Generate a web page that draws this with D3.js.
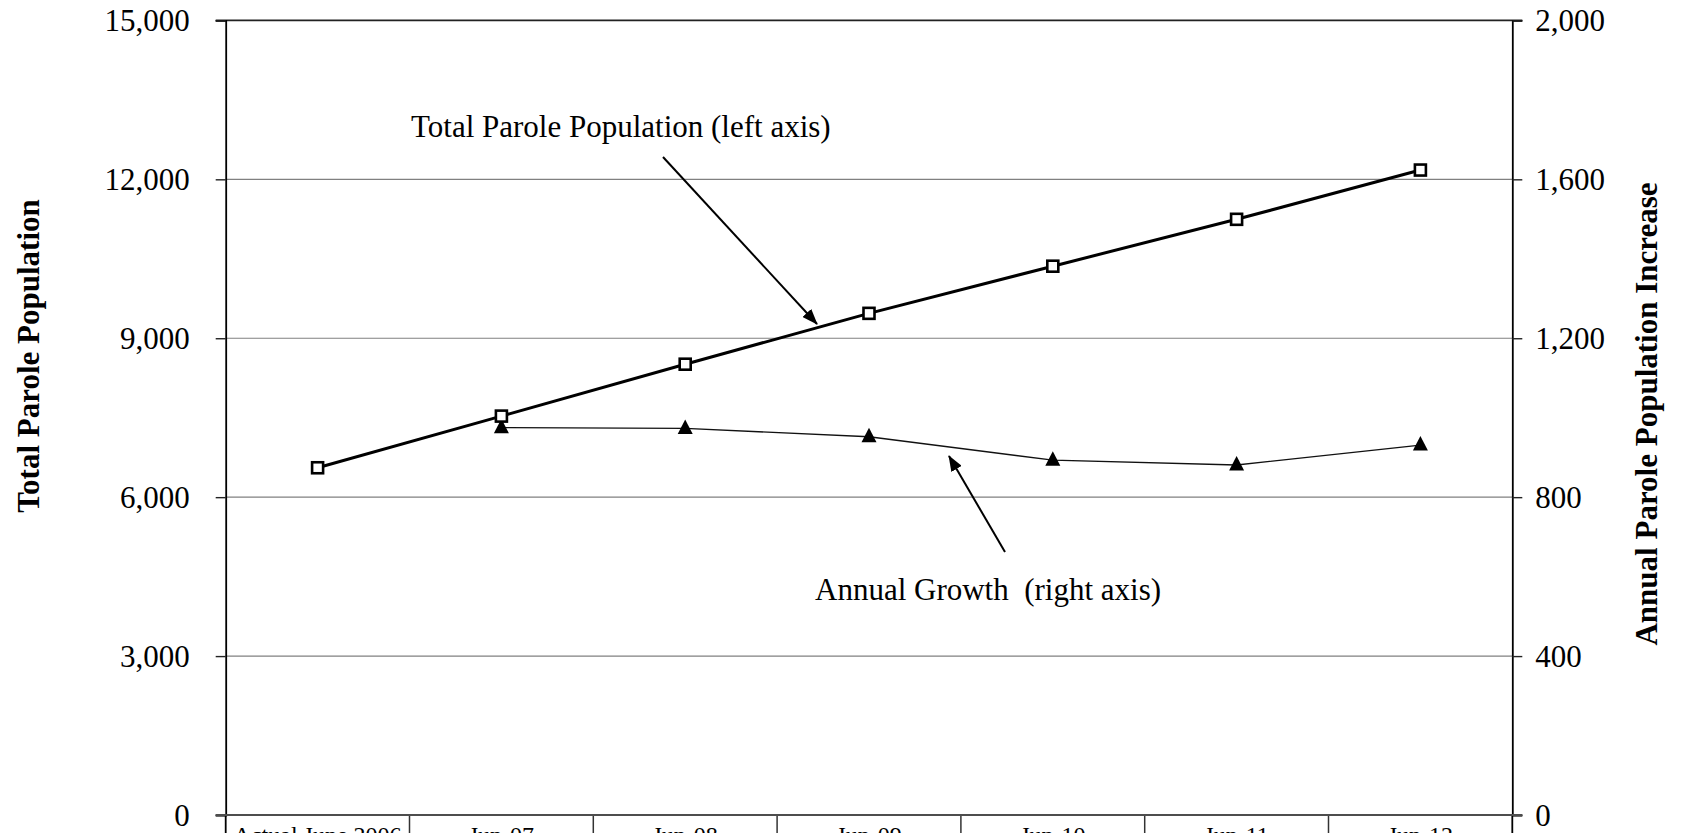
<!DOCTYPE html>
<html>
<head>
<meta charset="utf-8">
<script src="https://cdn.jsdelivr.net/npm/d3@7/dist/d3.min.js"></script>
<style>
  html, body { margin: 0; padding: 0; background: #fff; }
  svg { display: block; }
  text { font-family: "Liberation Serif", "Times New Roman", serif; fill: #000; }
</style>
</head>
<body>
<svg id="chart" width="1682" height="833"></svg>
<script>
// Categories along the horizontal axis
const categories = ["Actual June 2006", "Jun-07", "Jun-08", "Jun-09", "Jun-10", "Jun-11", "Jun-12"];
// Total parole population (left axis)
const totalPopulation = [6555, 7530, 8510, 9470, 10360, 11245, 12175];
// Annual growth of the parole population (right axis); none for the first year
const annualGrowth = [null, 975, 973, 952, 893, 881, 931];
// Tick values
const leftTicks = [0, 3000, 6000, 9000, 12000, 15000];
const rightTicks = [0, 400, 800, 1200, 1600, 2000];

const svg = d3.select("#chart");
const plot = { left: 225.7, right: 1512.3, top: 20.4, bottom: 815 };

const x = d3.scaleBand().domain(categories).range([plot.left, plot.right]).padding(0);
const yL = d3.scaleLinear().domain([0, 15000]).range([plot.bottom, plot.top]);
const yR = d3.scaleLinear().domain([0, 2000]).range([plot.bottom, plot.top]);
const cx = c => x(c) + x.bandwidth() / 2;

// Horizontal gridlines
svg.append("g")
  .selectAll("line")
  .data(leftTicks.filter(d => d > 0 && d < 15000))
  .join("line")
  .attr("x1", plot.left).attr("x2", plot.right)
  .attr("y1", d => yL(d)).attr("y2", d => yL(d))
  .attr("stroke", "#808080").attr("stroke-width", 1.2);

// Top edge of the plot area
svg.append("line")
  .attr("x1", plot.left - 10).attr("x2", plot.right + 10)
  .attr("y1", yL(15000)).attr("y2", yL(15000))
  .attr("stroke", "#222").attr("stroke-width", 1.6);

// Left axis
const gL = svg.append("g").attr("transform", `translate(${plot.left},0)`)
  .call(d3.axisLeft(yL).tickValues(leftTicks).tickSize(10).tickPadding(26).tickFormat(d3.format(",")));
gL.select(".domain").attr("stroke", "#000").attr("stroke-width", 1.8);
gL.selectAll(".tick line").attr("stroke", "#222").attr("stroke-width", 1.4);
gL.selectAll(".tick text")
  .attr("dy", "0.33em")
  .style("font-family", "'Liberation Serif', 'Times New Roman', serif")
  .style("font-size", "31px").attr("fill", "#000");

// Right axis
const gR = svg.append("g").attr("transform", `translate(${plot.right},0)`)
  .call(d3.axisRight(yR).tickValues(rightTicks).tickSize(10).tickPadding(13).tickFormat(d3.format(",")));
gR.select(".domain").attr("stroke", "#000").attr("stroke-width", 1.8);
gR.selectAll(".tick line").attr("stroke", "#222").attr("stroke-width", 1.4);
gR.selectAll(".tick text")
  .attr("dy", "0.33em")
  .style("font-family", "'Liberation Serif', 'Times New Roman', serif")
  .style("font-size", "31px").attr("fill", "#000");

// Axis lines continue below the baseline into the category table
svg.append("g").selectAll("line")
  .data([plot.left, plot.right])
  .join("line")
  .attr("x1", d => d).attr("x2", d => d)
  .attr("y1", plot.bottom).attr("y2", 860)
  .attr("stroke", "#000").attr("stroke-width", 1.8);

// Category dividers
svg.append("g").selectAll("line")
  .data(categories.slice(1))
  .join("line")
  .attr("x1", d => x(d)).attr("x2", d => x(d))
  .attr("y1", plot.bottom).attr("y2", 860)
  .attr("stroke", "#333").attr("stroke-width", 1.5);

// Baseline
svg.append("line")
  .attr("x1", plot.left - 10).attr("x2", plot.right + 10)
  .attr("y1", plot.bottom).attr("y2", plot.bottom)
  .attr("stroke", "#4d4d4d").attr("stroke-width", 2.2);

// Category labels
svg.append("g").selectAll("text")
  .data(categories)
  .join("text")
  .attr("x", d => cx(d))
  .attr("y", 843)
  .attr("text-anchor", "middle")
  .style("font-size", "24px")
  .text(d => d);

// Annual growth line with triangle markers
const growthPts = categories.map((c, i) => ({ c, v: annualGrowth[i] })).filter(d => d.v != null);
svg.append("path")
  .datum(growthPts)
  .attr("fill", "none").attr("stroke", "#111").attr("stroke-width", 1.3)
  .attr("d", d3.line().x(d => cx(d.c)).y(d => yR(d.v)));

svg.append("g").selectAll("path")
  .data(growthPts)
  .join("path")
  .attr("transform", d => `translate(${cx(d.c)},${yR(d.v)})`)
  .attr("d", "M0,-9 L7.5,5.5 L-7.5,5.5 Z")
  .attr("fill", "#000");

// Total population line with open square markers
const totalPts = categories.map((c, i) => ({ c, v: totalPopulation[i] }));
svg.append("path")
  .datum(totalPts)
  .attr("fill", "none").attr("stroke", "#000").attr("stroke-width", 3)
  .attr("d", d3.line().x(d => cx(d.c)).y(d => yL(d.v)));

svg.append("g").selectAll("rect")
  .data(totalPts)
  .join("rect")
  .attr("x", d => cx(d.c) - 5.5).attr("y", d => yL(d.v) - 5.5)
  .attr("width", 11).attr("height", 11)
  .attr("fill", "#fff").attr("stroke", "#000").attr("stroke-width", 2.6);

// Arrowhead marker
svg.append("defs").append("marker")
  .attr("id", "arrow")
  .attr("markerUnits", "userSpaceOnUse")
  .attr("viewBox", "0 0 16 12")
  .attr("refX", 15).attr("refY", 6)
  .attr("markerWidth", 16).attr("markerHeight", 12)
  .attr("orient", "auto")
  .append("path")
  .attr("d", "M0,0 L16,6 L0,12 Z")
  .attr("fill", "#000");

// Series annotations
svg.append("text")
  .attr("x", 411).attr("y", 137)
  .style("font-size", "31px")
  .text("Total Parole Population (left axis)");

svg.append("line")
  .attr("x1", 663).attr("y1", 157).attr("x2", 817).attr("y2", 324)
  .attr("stroke", "#000").attr("stroke-width", 2)
  .attr("marker-end", "url(#arrow)");

svg.append("text")
  .attr("x", 815).attr("y", 600)
  .attr("xml:space", "preserve")
  .style("white-space", "pre")
  .style("font-size", "31px")
  .text("Annual Growth  (right axis)");

svg.append("line")
  .attr("x1", 1005).attr("y1", 552).attr("x2", 949).attr("y2", 456)
  .attr("stroke", "#000").attr("stroke-width", 2)
  .attr("marker-end", "url(#arrow)");

// Axis titles
svg.append("text")
  .attr("transform", "translate(39,356) rotate(-90)")
  .attr("text-anchor", "middle")
  .style("font-size", "31px").style("font-weight", "bold")
  .text("Total Parole Population");

svg.append("text")
  .attr("transform", "translate(1657,414) rotate(-90)")
  .attr("text-anchor", "middle")
  .style("font-size", "31px").style("font-weight", "bold")
  .text("Annual Parole Population Increase");
</script>
</body>
</html>
